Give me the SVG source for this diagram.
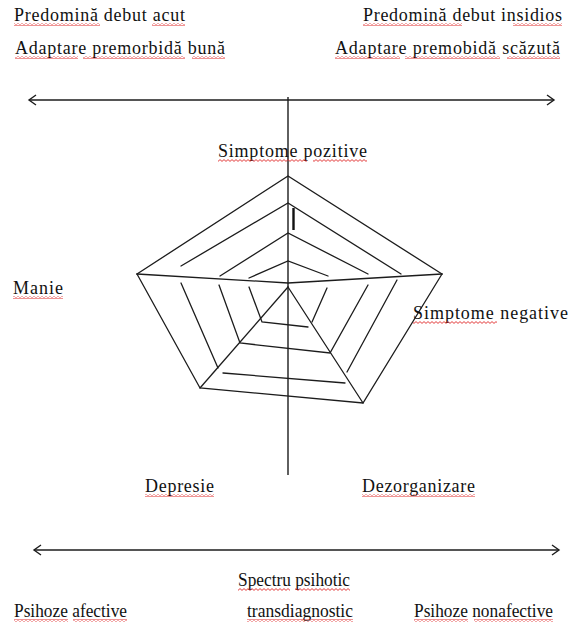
<svg xmlns="http://www.w3.org/2000/svg" width="572" height="627" viewBox="0 0 572 627">
<style>
  .t { font-family: "Liberation Serif", "Times New Roman", serif; font-size: 18px; fill: #111111; }
  .ln { stroke: #1c1c1c; stroke-width: 1.3; fill: none; stroke-linecap: round; }
  .ax { stroke: #1c1c1c; stroke-width: 1.4; fill: none; }
  .sq { fill: url(#sq); }
</style>
<defs>
  <pattern id="sq" width="4" height="3" patternUnits="userSpaceOnUse">
    <path d="M0,0.6 L2,2.4 L4,0.6" fill="none" stroke="#e02828" stroke-width="0.9"/>
  </pattern>
  <marker id="ah" viewBox="-10 -7 12 14" markerWidth="12" markerHeight="14" refX="0" refY="0" orient="auto-start-reverse" markerUnits="userSpaceOnUse" overflow="visible">
    <path d="M-7,-5 L0,0 L-7,5" fill="none" stroke="#1c1c1c" stroke-width="1.4"/>
  </marker>
</defs>
<rect width="572" height="627" fill="#ffffff"/>

<g id="connectors">
  <line class="ax" x1="29" y1="100" x2="554" y2="100" marker-start="url(#ah)" marker-end="url(#ah)"/>
  <line class="ax" x1="34" y1="550" x2="559" y2="550" marker-start="url(#ah)" marker-end="url(#ah)"/>
  <line class="ax" x1="288" y1="97" x2="288" y2="475"/>
</g>

<g id="web">
  <!-- outer pentagon -->
  <polyline class="ln" points="137,274 288,176 442,274"/>
  <polyline class="ln" points="137,274 200,388 363,403 442,274"/>
  <!-- horizontal through centre -->
  <polyline class="ln" points="137,274 288,283 442,274"/>
  <!-- lower spokes -->
  <line class="ln" x1="288" y1="287" x2="200" y2="388"/>
  <line class="ln" x1="288" y1="287" x2="363" y2="403"/>
  <!-- level 2 -->
  <polyline class="ln" points="181,266 288,203 401,274"/>
  <line class="ln" x1="181" y1="283" x2="218" y2="368"/>
  <line class="ln" x1="223" y1="373" x2="345" y2="383"/>
  <line class="ln" x1="347" y1="372" x2="397" y2="280"/>
  <!-- level 3 -->
  <polyline class="ln" points="220,276 288,233 368,274"/>
  <polyline class="ln" points="219,285 240,343 330,353 368,285"/>
  <!-- level 4 -->
  <polyline class="ln" points="249,278 288,261 328,276"/>
  <polyline class="ln" points="249,287 262,322 308,327"/>
  <line class="ln" x1="312" y1="322" x2="327" y2="288"/>
  <!-- cursor mark -->
  <line x1="293.5" y1="208" x2="293.5" y2="230" stroke="#111" stroke-width="2.4"/>
</g>

<g id="label-top-left">
  <text class="t" x="14" y="21" textLength="171" lengthAdjust="spacing">Predomină debut acut</text>
  <text class="t" x="15" y="54" textLength="210" lengthAdjust="spacing">Adaptare premorbidă bună</text>
  <rect class="sq" x="14" y="23" width="86" height="3"/>
  <rect class="sq" x="152" y="23" width="33" height="3"/>
  <rect class="sq" x="15" y="56" width="63" height="3"/>
  <rect class="sq" x="83" y="56" width="102" height="3"/>
  <rect class="sq" x="192" y="56" width="33" height="3"/>
</g>

<g id="label-top-right">
  <text class="t" x="363" y="21" textLength="199" lengthAdjust="spacing">Predomină debut insidios</text>
  <text class="t" x="335" y="54" textLength="225" lengthAdjust="spacing">Adaptare premobidă scăzută</text>
  <rect class="sq" x="363" y="23" width="99" height="3"/>
  <rect class="sq" x="513" y="23" width="49" height="3"/>
  <rect class="sq" x="335" y="56" width="65" height="3"/>
  <rect class="sq" x="405" y="56" width="95" height="3"/>
  <rect class="sq" x="507" y="56" width="53" height="3"/>
</g>

<g id="node-pozitive">
  <text class="t" x="218" y="157" textLength="149" lengthAdjust="spacing">Simptome pozitive</text>
  <rect class="sq" x="218" y="159" width="89" height="3"/>
  <rect class="sq" x="313" y="159" width="54" height="3"/>
</g>

<g id="node-manie">
  <text class="t" x="13" y="294" textLength="50" lengthAdjust="spacing">Manie</text>
  <rect class="sq" x="13" y="296" width="50" height="3"/>
</g>

<g id="node-negative">
  <text class="t" x="413" y="319" textLength="155" lengthAdjust="spacing">Simptome negative</text>
  <rect class="sq" x="413" y="321" width="84" height="3"/>
</g>

<g id="node-depresie">
  <text class="t" x="145" y="492" textLength="69" lengthAdjust="spacing">Depresie</text>
  <rect class="sq" x="145" y="494" width="69" height="3"/>
</g>

<g id="node-dezorganizare">
  <text class="t" x="362" y="492" textLength="113" lengthAdjust="spacing">Dezorganizare</text>
  <rect class="sq" x="362" y="494" width="113" height="3"/>
</g>

<g id="label-bottom">
  <text class="t" x="238" y="586" textLength="112" lengthAdjust="spacingAndGlyphs">Spectru psihotic</text>
  <text class="t" x="14" y="617" textLength="113" lengthAdjust="spacingAndGlyphs">Psihoze afective</text>
  <text class="t" x="247" y="617" textLength="106" lengthAdjust="spacingAndGlyphs">transdiagnostic</text>
  <text class="t" x="414" y="617" textLength="139" lengthAdjust="spacingAndGlyphs">Psihoze nonafective</text>
  <rect class="sq" x="238" y="588" width="52" height="3"/>
  <rect class="sq" x="295" y="588" width="55" height="3"/>
  <rect class="sq" x="14" y="619" width="54" height="3"/>
  <rect class="sq" x="73" y="619" width="54" height="3"/>
  <rect class="sq" x="247" y="619" width="106" height="3"/>
  <rect class="sq" x="414" y="619" width="54" height="3"/>
  <rect class="sq" x="474" y="619" width="79" height="3"/>
</g>
</svg>
